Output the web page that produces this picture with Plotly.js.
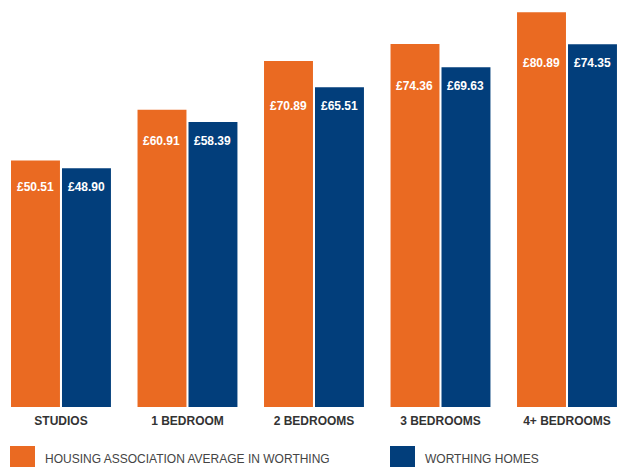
<!DOCTYPE html>
<html><head><meta charset="utf-8">
<script src="https://cdn.plot.ly/plotly-3.0.1.min.js"></script>
<style>html,body{margin:0;padding:0;background:#fff;}#chart{width:620px;height:467px;}</style>
</head><body><div id="chart"></div>
<script>
const categories = ["STUDIOS", "1 BEDROOM", "2 BEDROOMS", "3 BEDROOMS", "4+ BEDROOMS"];
const seriesNames = ["HOUSING ASSOCIATION AVERAGE IN WORTHING", "WORTHING HOMES"];
const housingAssociation = [50.51, 60.91, 70.89, 74.36, 80.89];
const worthingHomes = [48.90, 58.39, 65.51, 69.63, 74.35];
const colors = ["#EA6A22", "#023E7B"];

const fmt = v => "£" + v.toFixed(2);
const allSeries = [housingAssociation, worthingHomes];

const traces = allSeries.map((vals, i) => ({
  type: "bar", x: categories, y: vals, name: seriesNames[i],
  marker: {color: colors[i]}, hoverinfo: "skip", showlegend: false
}));

// value labels inside bars, aligned per group below the shorter bar's top
const annotations = [];
allSeries.forEach((vals, i) => {
  vals.forEach((v, j) => {
    const groupMin = Math.min(housingAssociation[j], worthingHomes[j]);
    annotations.push({
      x: j, xref: "x", y: groupMin, yref: "y", text: fmt(v), showarrow: false,
      xshift: (i === 0 ? -25.5 : 25.5), yshift: -19,
      font: {family: "Liberation Sans, Arial, sans-serif", size: 12, color: "#ffffff", weight: "bold"},
      xanchor: "center", yanchor: "middle"
    });
  });
});

// legend built from series names
const H = 407;
const legendX = [10, 390];
const shapes = [];
seriesNames.forEach((n, i) => {
  shapes.push({type: "rect", xref: "paper", yref: "paper",
    x0: legendX[i] / 620, x1: (legendX[i] + 25) / 620,
    y0: (H - 472) / H, y1: (H - 446) / H,
    fillcolor: colors[i], line: {width: 0}});
  annotations.push({xref: "paper", yref: "paper", x: (legendX[i] + 33) / 620, y: (H - 459) / H,
    xanchor: "left", yanchor: "middle", showarrow: false, text: n,
    font: {family: "Liberation Sans, Arial, sans-serif", size: 12, color: "#444444"}});
});

const layout = {
  width: 620, height: 467,
  margin: {l: 0, r: 0, t: 0, b: 60},
  paper_bgcolor: "#ffffff", plot_bgcolor: "#ffffff",
  barmode: "group", bargap: 0.194, bargroupgap: 0.04,
  xaxis: {type: "category", range: [-0.482, 4.419], showgrid: false, zeroline: false,
    showline: false, ticks: "", ticklabelstandoff: 5,
    tickfont: {family: "Liberation Sans, Arial, sans-serif", size: 12, color: "#333333", weight: "bold"}},
  yaxis: {range: [0, 83.4], visible: false, showgrid: false, zeroline: false},
  annotations: annotations, shapes: shapes, showlegend: false
};
Plotly.newPlot("chart", traces, layout, {displayModeBar: false, staticPlot: true});
</script></body></html>
